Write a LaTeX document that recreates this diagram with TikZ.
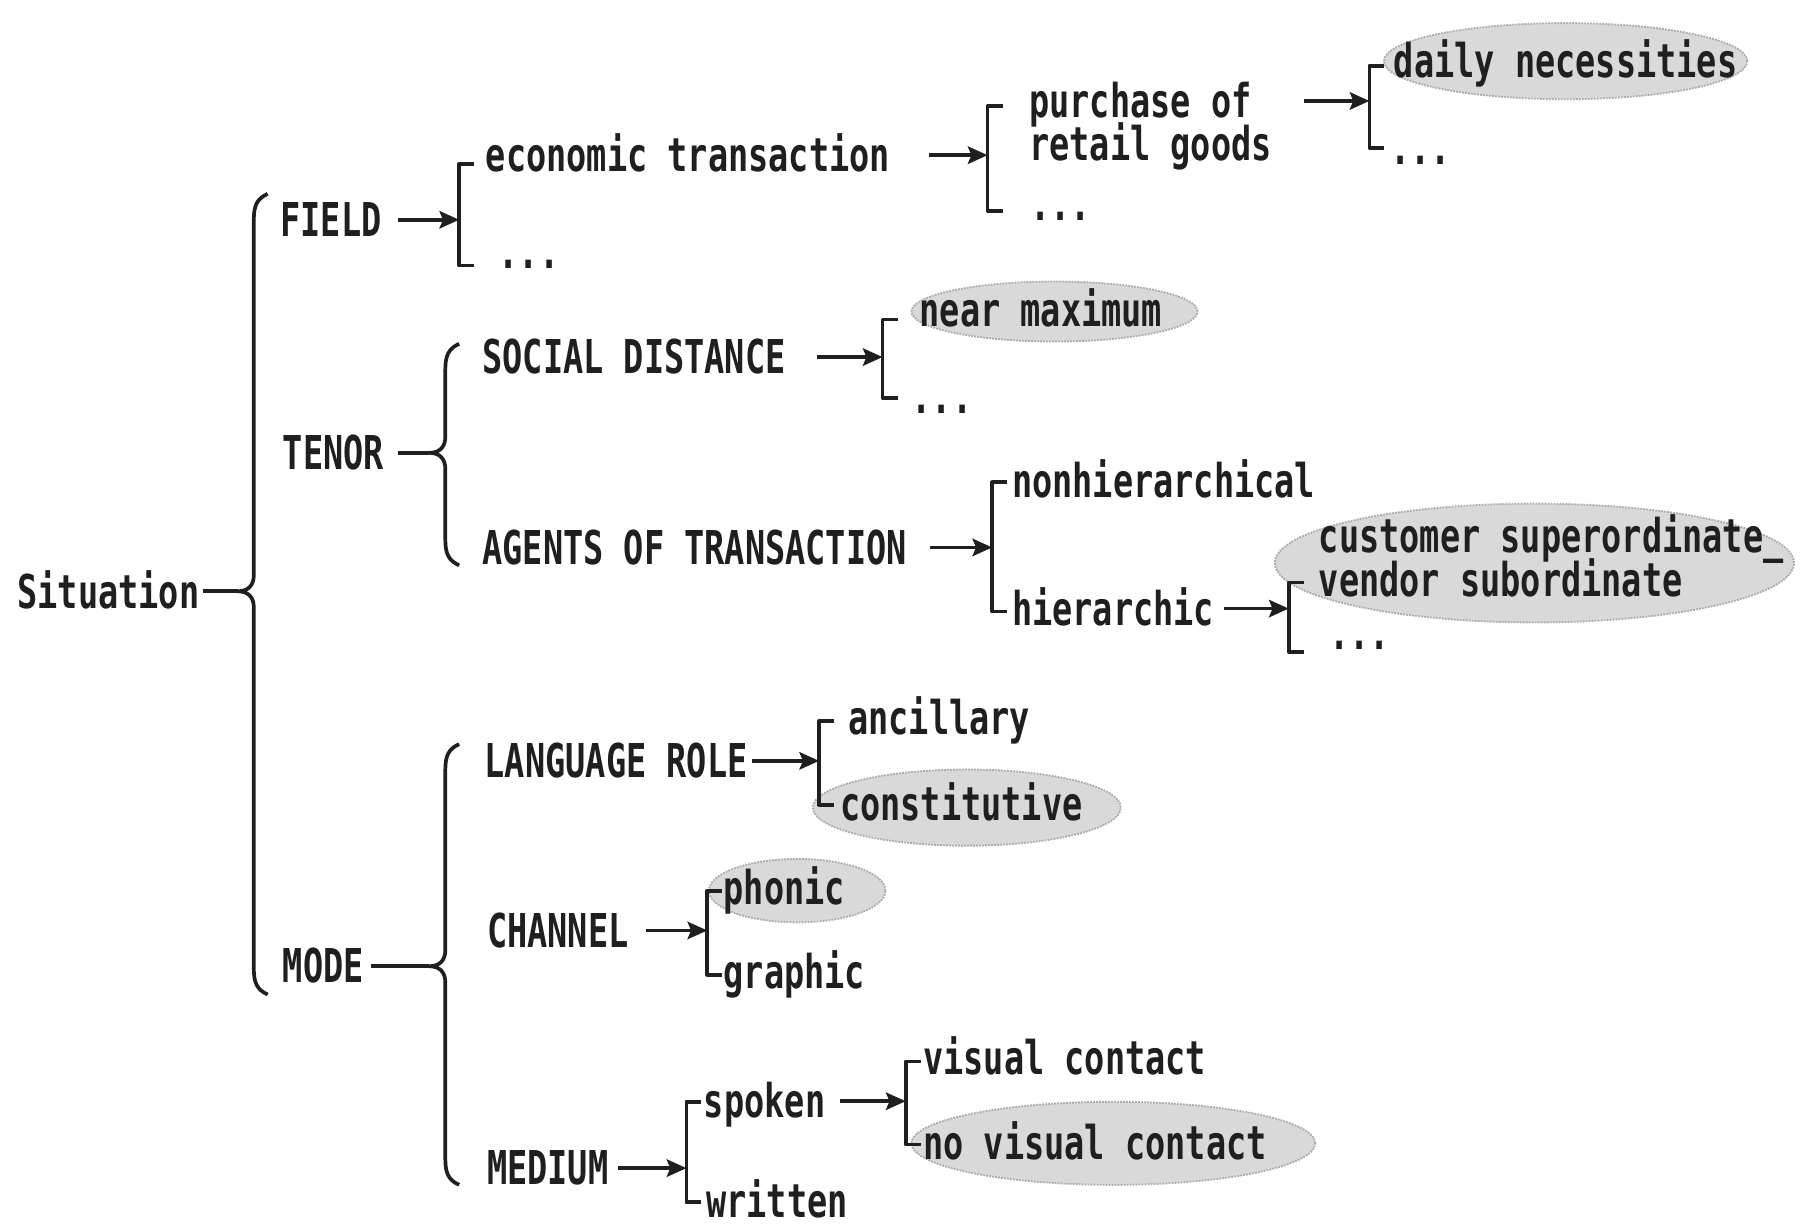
\documentclass[tikz,border=0pt]{standalone}
\usepackage{fontspec}
\newfontfamily\gfont[FakeStretch=0.72]{DejaVu Sans Mono Bold}
\usetikzlibrary{arrows.meta,shapes.geometric}

% square bracket opening to the right: name, x, top, bottom
\newcommand\sqbr[4]{%
  \draw[ln] (#2+13,#3) -- (#2,#3) -- (#2,#4) -- (#2+13,#4);
  \coordinate (#1) at (#2,{(#3+#4)/2});}
% curly brace opening to the right: name, x, top, tip, bottom
\newcommand\cbr[5]{%
  \draw[ln] (#2+12,#3) .. controls (#2+3,#3+4) and (#2,#3+10) .. (#2,#3+22)
    -- (#2,#4-14) .. controls (#2,#4-5) and (#2-5,#4) .. (#2-14,#4)
    .. controls (#2-5,#4) and (#2,#4+5) .. (#2,#4+14)
    -- (#2,#5-22) .. controls (#2,#5-10) and (#2+3,#5-4) .. (#2+12,#5);
  \coordinate (#1) at (#2-14,#4);}

\begin{document}
\begin{tikzpicture}[x=1pt,y=-1pt,
  lbl/.style={font=\gfont\fontsize{40.4}{44}\selectfont, inner sep=0pt,
    anchor=base west, text height=29pt, text depth=0pt, text=black!88},
  ln/.style={line width=3.2pt, line join=round, draw=black!88},
  arr/.style={line width=3.2pt, draw=black!88,
    -{Stealth[length=17pt,width=15pt,inset=3pt]}},
  hl/.style={ellipse, fill=gray!30, draw=gray!65, densely dotted,
    line width=1.6pt, inner sep=0pt}]

\useasboundingbox[fill=white] (0,0) rectangle (1568,1066);

% shaded ellipses behind the marked choices
\node[hl, minimum width=315pt, minimum height=66pt] (eDaily) at (1357,53) {};
\node[hl, minimum width=248pt, minimum height=52pt] (eNear)  at (914,270) {};
\node[hl, minimum width=450pt, minimum height=103pt] (eCust) at (1330,488) {};
\node[hl, minimum width=267pt, minimum height=66pt] (eCons) at (838,700) {};
\node[hl, minimum width=153pt, minimum height=55pt] (ePhon) at (691,772) {};
\node[hl, minimum width=350pt, minimum height=72pt] (eNoVis) at (965,991) {};

% labels
\node[lbl] (sit)   at (15,527)  {Situation};
\node[lbl] (field) at (243,205) {FIELD};
\node[lbl] (tenor) at (245,407) {TENOR};
\node[lbl] (mode)  at (245,852) {MODE};

\node[lbl] (econ)  at (421,149) {economic transaction};
\node[lbl] (fdots) at (432,233) {...};
\node[lbl] (purch) at (892,102) {purchase of};
\node[lbl] (retail) at (892,139) {retail goods};
\node[lbl] (edots) at (893,191) {...};
\node[lbl] (daily) at (1208,67) {daily necessities};
\node[lbl] (pdots) at (1205,143) {...};

\node[lbl] (social) at (418,324) {SOCIAL DISTANCE};
\node[lbl] (near)   at (797,283) {near maximum};
\node[lbl] (sdots)  at (790,358) {...};
\node[lbl] (agents) at (418,489) {AGENTS OF TRANSACTION};
\node[lbl] (nonh)   at (877,431) {nonhierarchical};
\node[lbl] (hier)   at (877,542) {hierarchic};
\node[lbl] (cust)   at (1143,479) {customer superordinate\_};
\node[lbl] (vend)   at (1143,517) {vendor subordinate};
\node[lbl] (hdots)  at (1152,563) {...};

\node[lbl] (lrole)  at (420,674) {LANGUAGE ROLE};
\node[lbl] (anc)    at (735,637) {ancillary};
\node[lbl] (cons)   at (728,711) {constitutive};
\node[lbl] (chan)   at (422,821) {CHANNEL};
\node[lbl] (phon)   at (627,784) {phonic};
\node[lbl] (graph)  at (627,857) {graphic};
\node[lbl] (med)    at (422,1027) {MEDIUM};
\node[lbl] (spoken) at (610,969) {spoken};
\node[lbl] (written) at (612,1055) {written};
\node[lbl] (vis)    at (800,931) {visual contact};
\node[lbl] (novis)  at (800,1005) {no visual contact};

% braces
\cbr{bS}{220}{168}{512.5}{862}
\cbr{bT}{386}{298}{392.5}{490}
\cbr{bM}{386}{645}{837.5}{1027}

\draw[ln] ([xshift=3pt]sit.east) -- (bS);
\draw[ln] ([xshift=12pt]tenor.east) -- (bT);
\draw[ln] ([xshift=6pt]mode.east) -- (bM);

% brackets
\sqbr{b1}{398}{142}{230}
\sqbr{b2}{856}{92}{183}
\sqbr{b3}{1187}{57}{128}
\sqbr{b4}{765}{277}{345}
\sqbr{b5}{860}{418}{530}
\sqbr{b6}{1117}{505}{565}
\sqbr{b7}{710}{625}{698}
\sqbr{b8}{613}{772}{845}
\sqbr{b9}{595}{955}{1042}
\sqbr{b10}{785}{920}{992}

% arrows
\draw[arr] ([xshift=14pt]field.east) -- (field.east -| b1);
\draw[arr] ([xshift=34pt]econ.east) -- (econ.east -| b2);
\draw[arr] ([xshift=45pt]purch.east) -- (purch.east -| b3);
\draw[arr] ([xshift=27pt]social.east) -- (social.east -| b4);
\draw[arr] ([xshift=20pt]agents.east) -- (agents.east -| b5);
\draw[arr] ([xshift=8pt]hier.east) -- (hier.east -| b6);
\draw[arr] ([xshift=4pt]lrole.east) -- (lrole.east -| b7);
\draw[arr] ([xshift=15pt]chan.east) -- (chan.east -| b8);
\draw[arr] ([xshift=8pt]med.east) -- (med.east -| b9);
\draw[arr] ([xshift=13pt]spoken.east) -- (spoken.east -| b10);
\end{tikzpicture}
\end{document}
